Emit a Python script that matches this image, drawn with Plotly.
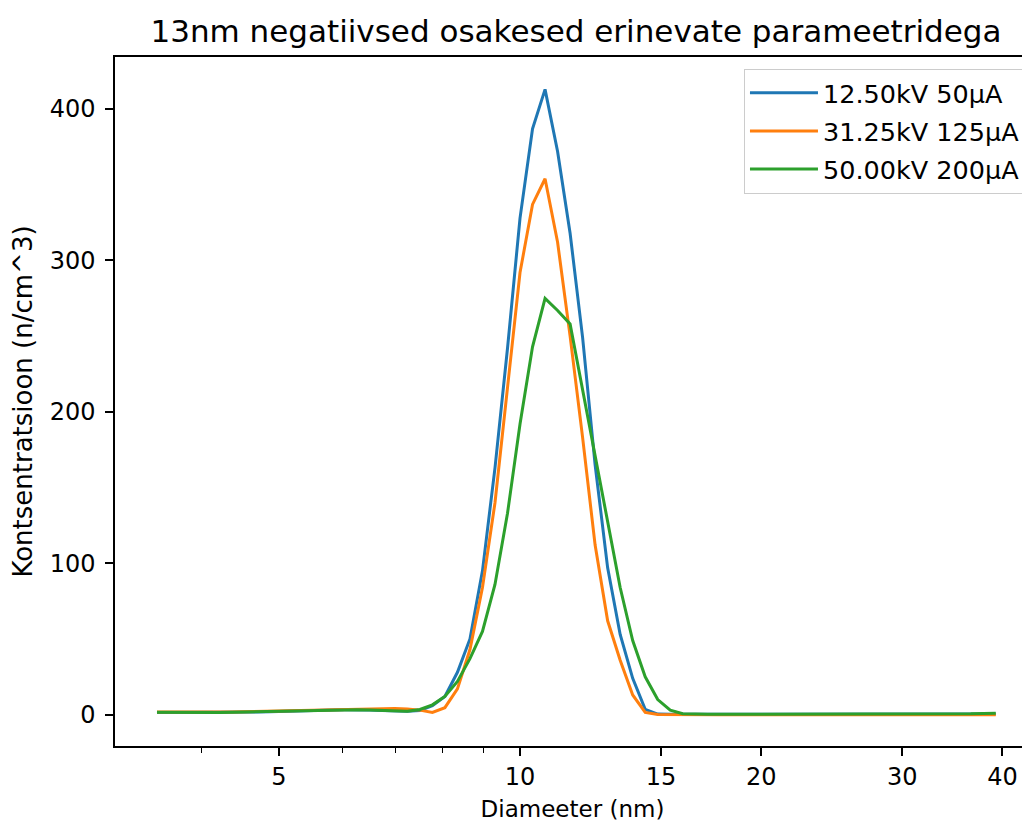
import plotly.graph_objects as go

diameter_nm = [3.523, 3.652, 3.786, 3.924, 4.068, 4.217, 4.371, 4.532, 4.698, 4.870,
               5.048, 5.233, 5.425, 5.623, 5.829, 6.043, 6.264, 6.494, 6.732, 6.978,
               7.234, 7.499, 7.774, 8.058, 8.354, 8.660, 8.977, 9.306, 9.647, 10.000,
               10.366, 10.746, 11.140, 11.548, 11.971, 12.409, 12.864, 13.335, 13.824, 14.330,
               14.855, 15.399, 15.963, 16.548, 17.154, 17.783, 18.434, 19.110, 19.810, 20.535,
               21.288, 22.067, 22.876, 23.714, 24.582, 25.483, 26.416, 27.384, 28.387, 29.427,
               30.505, 31.623, 32.781, 33.982, 35.227, 36.517, 37.855, 39.242]

conc_12kv = [1.5, 1.5, 1.4, 1.3, 1.3, 1.4, 1.5, 1.6, 1.8, 2.0, 2.3, 2.5, 2.7, 2.9, 3.1, 3.2, 3.3, 3.1, 2.8, 2.4, 2.2, 2.8,
             6, 12, 28, 50, 95, 163, 242, 328, 387, 413, 372, 318, 249, 165, 97, 53, 24, 3.5, 0.4,
             0.2, 0.1, 0.1, 0.1, 0.1, 0.2, 0.2, 0.2, 0.2, 0.3, 0.3, 0.3, 0.4, 0.4, 0.4, 0.5, 0.5, 0.4, 0.4,
             0.3, 0.3, 0.3, 0.2, 0.2, 0.3, 0.4, 0.5]

conc_31kv = [1.8, 1.7, 1.6, 1.5, 1.5, 1.6, 1.7, 1.9, 2.1, 2.3, 2.5, 2.7, 2.9, 3.1, 3.3, 3.5, 3.7, 3.9, 4.0, 4.0, 3.8, 3.0,
             1.5, 4.6, 17, 43, 84, 140, 216, 292, 337, 354, 312, 250, 183, 112, 62, 36, 13, 1.5, 0.1,
             0, 0, 0, 0, 0, 0, 0, 0, 0, 0, 0, 0, 0, 0, 0, 0, 0, 0, 0,
             0, 0, 0, 0, 0, 0, 0, 0]

conc_50kv = [1.6, 1.5, 1.4, 1.4, 1.4, 1.5, 1.6, 1.8, 2.0, 2.2, 2.4, 2.6, 2.8, 3.0, 3.2, 3.3, 3.2, 3.0, 2.6, 2.3, 2.2, 3.4,
             6.5, 12, 22, 37, 55, 86, 133, 192, 243, 275, 267, 258, 215, 171, 128, 84, 49, 25, 10,
             3, 0.6, 0.3, 0.3, 0.3, 0.3, 0.4, 0.4, 0.4, 0.5, 0.5, 0.5, 0.6, 0.6, 0.7, 0.7, 0.7, 0.6, 0.6,
             0.5, 0.5, 0.4, 0.4, 0.5, 0.6, 0.8, 1.0]

series_names = ["12.50kV 50µA", "31.25kV 125µA", "50.00kV 200µA"]
series_colors = ["#1f77b4", "#ff7f0e", "#2ca02c"]
series_values = [conc_12kv, conc_31kv, conc_50kv]

major_ticks = [5, 10, 15, 20, 30, 40]
minor_ticks = [4, 6, 7, 8, 9]
y_ticks = [0, 100, 200, 300, 400]

FONT = "DejaVu Sans"
W, H = 1022, 815  # page body adds an 8px margin

fig = go.Figure()
for i, (name, col, vals) in enumerate(zip(series_names, series_colors, series_values)):
    fig.add_trace(go.Scatter(x=diameter_nm, y=vals, mode="lines", name=name,
                             legendgroup=f"g{i}",
                             line=dict(color=col, width=3)))

fig.update_layout(
    width=W, height=H,
    margin=dict(l=107, r=0, t=49, b=77, autoexpand=False),
    paper_bgcolor="white", plot_bgcolor="white",
    font=dict(family=FONT, size=24, color="black"),
    title=dict(text="13nm negatiivsed osakesed erinevate parameetridega",
               font=dict(family=FONT, size=31, color="black"),
               x=568 / W, xref="container", xanchor="center",
               y=1 - 23 / H, yref="container", yanchor="middle"),
    showlegend=True,
    legend=dict(x=0.9956, y=0.983, xanchor="right", yanchor="top",
                bgcolor="white", bordercolor="#cccccc", borderwidth=1,
                font=dict(family=FONT, size=25.5, color="black"),
                tracegroupgap=2, itemwidth=68),
)

fig.update_xaxes(
    type="log", range=[0.4945, 1.6365],
    tickmode="array", tickvals=major_ticks, ticktext=[str(t) for t in major_ticks],
    ticks="outside", ticklen=8, tickwidth=1.5, tickcolor="black",
    showline=True, linecolor="black", linewidth=1.5, mirror=True,
    showgrid=False, zeroline=False, automargin=False,
    minor=dict(tickmode="array", tickvals=minor_ticks, ticks="outside",
               ticklen=5, tickwidth=1.2, tickcolor="black", showgrid=False),
    title=dict(text="Diameeter (nm)", font=dict(family=FONT, size=23), standoff=11),
    tickfont=dict(family=FONT, size=24),
)

fig.update_yaxes(
    range=[-20.7, 434.4],
    tickmode="array", tickvals=y_ticks,
    ticks="outside", ticklen=8, tickwidth=1.5, tickcolor="black",
    showline=True, linecolor="black", linewidth=1.5, mirror=False,
    showgrid=False, zeroline=False, automargin=False,
    ticklabelstandoff=5,
    title=dict(text="Kontsentratsioon (n/cm^3)", font=dict(family=FONT, size=26), standoff=14),
    tickfont=dict(family=FONT, size=24),
)

fig.write_html("out.html")
